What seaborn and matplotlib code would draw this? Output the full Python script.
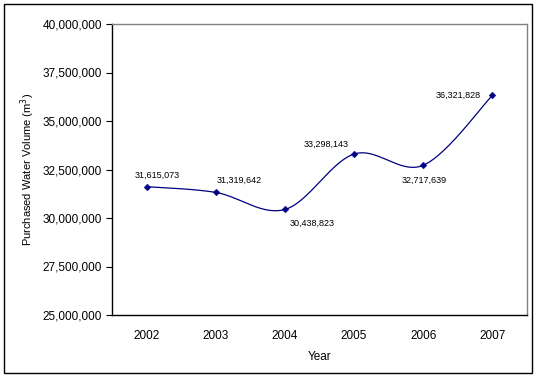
import numpy as np
import pandas as pd
import matplotlib
matplotlib.use('Agg')
import matplotlib.pyplot as plt
import seaborn as sns
from matplotlib.patches import Rectangle

# chart data
years = ['2002', '2003', '2004', '2005', '2006', '2007']
volumes = [31615073, 31319642, 30438823, 33298143, 32717639, 36321828]
# label offsets (pixels)
label_dx = [11, 23, 27, -28, 1, -34]
label_dy = [11, 12, -14, 10, -15, 0]

sns.set_style('white')
plt.rcParams['font.family'] = ['Liberation Sans', 'DejaVu Sans']
plt.rcParams['text.color'] = 'black'
plt.rcParams['axes.labelcolor'] = 'black'
plt.rcParams['xtick.color'] = 'black'
plt.rcParams['ytick.color'] = 'black'

df = pd.DataFrame({'pos': np.arange(len(years)), 'volume': volumes})


def catmull_rom(x, y, n=40):
    # Excel-like smoothed line through the points
    px = np.concatenate([[x[0]], x, [x[-1]]])
    py = np.concatenate([[y[0]], y, [y[-1]]])
    xs, ys = [], []
    t = np.linspace(0, 1, n)
    for i in range(1, len(px) - 2):
        p0x, p1x, p2x, p3x = px[i - 1:i + 3]
        p0y, p1y, p2y, p3y = py[i - 1:i + 3]
        c1x, c1y = p1x + (p2x - p0x) / 6, p1y + (p2y - p0y) / 6
        c2x, c2y = p2x - (p3x - p1x) / 6, p2y - (p3y - p1y) / 6
        bx = (1 - t) ** 3 * p1x + 3 * (1 - t) ** 2 * t * c1x + 3 * (1 - t) * t ** 2 * c2x + t ** 3 * p2x
        by = (1 - t) ** 3 * p1y + 3 * (1 - t) ** 2 * t * c1y + 3 * (1 - t) * t ** 2 * c2y + t ** 3 * p2y
        xs.extend(bx)
        ys.extend(by)
    return np.array(xs), np.array(ys)


fig = plt.figure(figsize=(5.4, 3.79), dpi=100)
ax = fig.add_axes([112 / 540, 1 - 315 / 379, 415 / 540, 291 / 379])

sx, sy = catmull_rom(df['pos'].values.astype(float), df['volume'].values.astype(float))
sns.lineplot(x=sx, y=sy, ax=ax, color='#000080', linewidth=0.9, sort=False, estimator=None)
sns.scatterplot(data=df, x='pos', y='volume', ax=ax, marker='D', s=12,
                color='#000080', edgecolor='#000080', zorder=3)

for i, v in enumerate(volumes):
    ax.annotate(f'{v:,}', (i, v), xytext=(label_dx[i], label_dy[i]),
                textcoords='offset pixels', ha='center', va='center',
                fontsize=6.5, color='black')

ax.set_xlim(-0.5, len(years) - 0.5)
ax.set_ylim(25000000, 40000000)
ax.set_yticks(np.arange(25000000, 40000001, 2500000))
ax.yaxis.set_major_formatter(matplotlib.ticker.FuncFormatter(lambda v, p: f'{int(v):,}'))
ax.set_xticks(range(len(years)))
ax.set_xticklabels(years)
ax.set_xticks(np.arange(-0.5, len(years), 1.0), minor=True)
ax.tick_params(axis='x', which='major', length=0, pad=11, labelsize=8.5)
ax.tick_params(axis='x', which='minor', length=4, width=0.8, direction='out', color='black')
ax.tick_params(axis='y', length=4, width=0.8, direction='out', color='black', labelsize=8.5, pad=3, left=True)

ax.set_xlabel('Year', fontsize=8.5, labelpad=6)
ax.set_ylabel('Purchased Water Volume (m$^3$)', fontsize=8, labelpad=4)

for side in ['left', 'bottom']:
    ax.spines[side].set_color('black')
    ax.spines[side].set_linewidth(1)
for side in ['top', 'right']:
    ax.spines[side].set_color('#808080')
    ax.spines[side].set_linewidth(1)

fig.patches.append(Rectangle((4 / 540, 1 - 373 / 379), 528 / 540, 369 / 379,
                             transform=fig.transFigure, fill=False,
                             edgecolor='black', linewidth=1))

plt.savefig('out.png', dpi=100)
